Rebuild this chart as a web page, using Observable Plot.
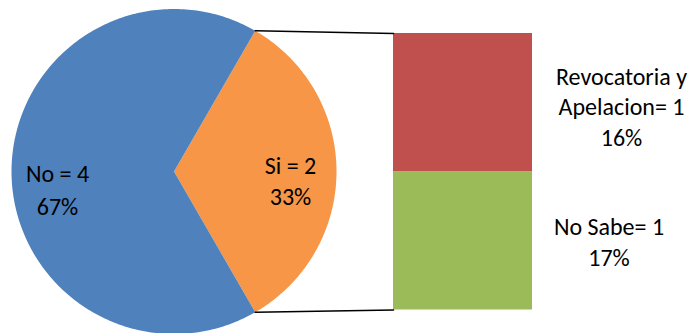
<!DOCTYPE html>
<html><head><meta charset="utf-8">
<script src="https://cdn.jsdelivr.net/npm/d3@7"></script>
<script src="https://cdn.jsdelivr.net/npm/@observablehq/plot@0.6"></script>
<style>html,body{margin:0;padding:0;background:#fff}</style>
</head><body><div id="chart"></div>
<script>
// ---- data ----
const pieCategories = ["Si", "No"];
const pieValues = [2, 4];
const piePercents = ["33%", "67%"];
const barCategories = ["No Sabe", "Revocatoria y Apelacion"]; // bottom to top
const barValues = [1, 1];
const barPercents = ["17%", "16%"];
const barLabelText = ["No Sabe= 1", "Revocatoria y\nApelacion= 1"];

// ---- layout / style ----
const W = 698, H = 333;
const cx = 173.5, cy = 171, R = 162.5;
const barX1 = 393, barX2 = 532, barTop = 33, barBottom = 309.5;
const colors = {"No": "#4F81BD", "Si": "#F79646", "Revocatoria y Apelacion": "#C0504D", "No Sabe": "#9BBB59"};

// pie geometry from values
const arcs = d3.pie().sort(null).startAngle(Math.PI / 6).endAngle(Math.PI / 6 + 2 * Math.PI)(pieValues);
const pt = (a, r) => ({x: cx + r * Math.sin(a), y: cy - r * Math.cos(a)});
const pieRows = [];
arcs.forEach((a, i) => {
  const n = Math.max(8, Math.ceil((a.endAngle - a.startAngle) * 60));
  pieRows.push({slice: pieCategories[i], ...pt(0, 0)});
  for (let k = 0; k <= n; k++) {
    const ang = a.startAngle + (a.endAngle - a.startAngle) * k / n;
    pieRows.push({slice: pieCategories[i], ...pt(ang, R)});
  }
});

// bar of pie
const total = d3.sum(barValues);
const yb = d3.scaleLinear([0, total], [barBottom, barTop]);
let cum = 0;
const barRows = barValues.map((v, i) => {
  const r = {cat: barCategories[i], y1: yb(cum), y2: yb(cum + v), x1: barX1, x2: barX2};
  cum += v;
  return r;
});

// connector lines from the "Si" slice edges to the bar
const si = arcs[0];
const p1 = pt(si.startAngle, R), p2 = pt(si.endAngle, R);
const connectors = [
  {id: "top", x: p1.x, y: p1.y}, {id: "top", x: barX1, y: barTop},
  {id: "bot", x: p2.x, y: p2.y}, {id: "bot", x: barX1, y: barBottom}
];

// labels
const labels = [
  {text: `No = ${pieValues[1]}\n${piePercents[1]}`, x: 57, y: 187.5, lh: 1.38},
  {text: `Si = ${pieValues[0]}\n${piePercents[0]}`, x: 290, y: 179, lh: 1.28},
  {text: `${barLabelText[1]}\n${barPercents[1]}`, x: 621, y: 105, lh: 1.28},
  {text: `${barLabelText[0]}\n${barPercents[0]}`, x: 608.5, y: 240, lh: 1.32}
];

const chart = Plot.plot({
  width: W, height: H, margin: 0,
  x: {domain: [0, W], range: [0, W], axis: null},
  y: {domain: [0, H], range: [0, H], axis: null},
  color: {domain: Object.keys(colors), range: Object.values(colors)},
  style: {fontFamily: "Calibri, Carlito, 'Open Sans', sans-serif", background: "#fff", overflow: "visible"},
  marks: [
    Plot.line(pieRows, {x: "x", y: "y", z: "slice", fill: "slice", stroke: "none", curve: "linear-closed"}),
    Plot.rect(barRows, {x1: "x1", x2: "x2", y1: "y1", y2: "y2", fill: "cat"}),
    Plot.line(connectors, {x: "x", y: "y", z: "id", stroke: "#000", strokeWidth: 1.6}),
    ...labels.map(l => Plot.text([l], {x: "x", y: "y", text: "text", fontSize: 24, lineHeight: l.lh, fill: "#000", lineAnchor: "middle"}))
  ]
});
document.getElementById("chart").append(chart);
</script>
</body></html>
